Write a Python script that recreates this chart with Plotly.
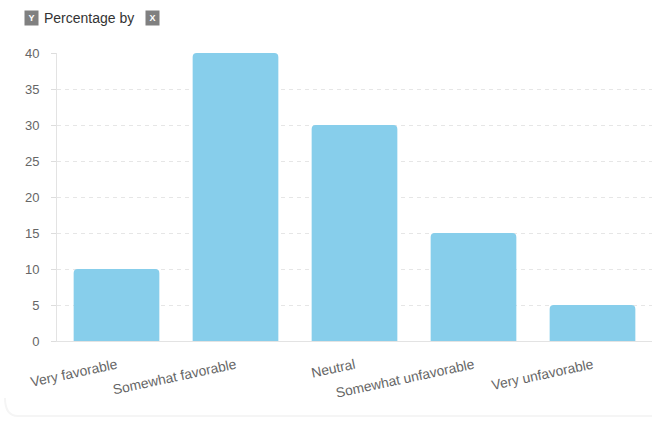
import plotly.graph_objects as go

categories = ["Very favorable", "Somewhat favorable", "Neutral", "Somewhat unfavorable", "Very unfavorable"]
percentages = [10, 40, 30, 15, 5]
y_ticks = [0, 5, 10, 15, 20, 25, 30, 35, 40]

W, H = 652, 422
L, R, T, B = 57, 0, 53, 81

fig = go.Figure(go.Bar(
    x=categories, y=percentages,
    marker=dict(color="#87CEEB", line=dict(width=0), cornerradius=4),
    hoverinfo="skip",
))

def px2paper(px, py):
    return (px - L) / (W - L - R), (H - B - py) / (H - T - B)

# faint card edge at bottom-left
x0, y0 = px2paper(5, 398)
x1, y1 = px2paper(18, 416)
x2, _ = px2paper(660, 416)
fig.add_shape(type="path", xref="paper", yref="paper",
              path=f"M {x0} {y0} Q {x0} {y1} {x1} {y1} L {x2} {y1}",
              line=dict(color="#f5f5f5", width=2))

# title with icon badges
ty = px2paper(0, 18)[1]
for txt, cx in (("Y", 32), ("X", 152)):
    fig.add_annotation(xref="paper", yref="paper", x=px2paper(cx, 0)[0], y=ty,
                       text=f"<b>{txt}</b>", showarrow=False,
                       font=dict(family="Arial", size=9, color="white"),
                       bgcolor="#808080", borderpad=1, width=11, height=12,
                       xanchor="center", yanchor="middle")
fig.add_annotation(xref="paper", yref="paper", x=px2paper(42, 0)[0], y=ty,
                   text="Percentage by", showarrow=False,
                   font=dict(family="Arial", size=14, color="#333333"),
                   xanchor="left", yanchor="middle")

fig.update_layout(
    width=W, height=H,
    margin=dict(l=L, r=R, t=T, b=B, pad=0),
    paper_bgcolor="white", plot_bgcolor="white",
    bargap=0.28, showlegend=False,
    xaxis=dict(
        showgrid=False, showline=True, linecolor="#e3e3e3", linewidth=1,
        ticks="", tickangle=-12,
        tickfont=dict(family="Arial", size=13.8, color="#666666"),
        ticklabelstandoff=10,
    ),
    yaxis=dict(
        range=[0, 40], tickvals=y_ticks,
        showgrid=True, gridcolor="#e6e6e6", griddash="4px,4px", gridwidth=1,
        showline=True, linecolor="#e3e3e3", linewidth=1,
        ticks="outside", ticklen=5, tickcolor="#dddddd",
        tickfont=dict(family="Arial", size=13, color="#666666"),
        ticklabelstandoff=9, zeroline=False,
    ),
)

fig.write_html("out.html")
